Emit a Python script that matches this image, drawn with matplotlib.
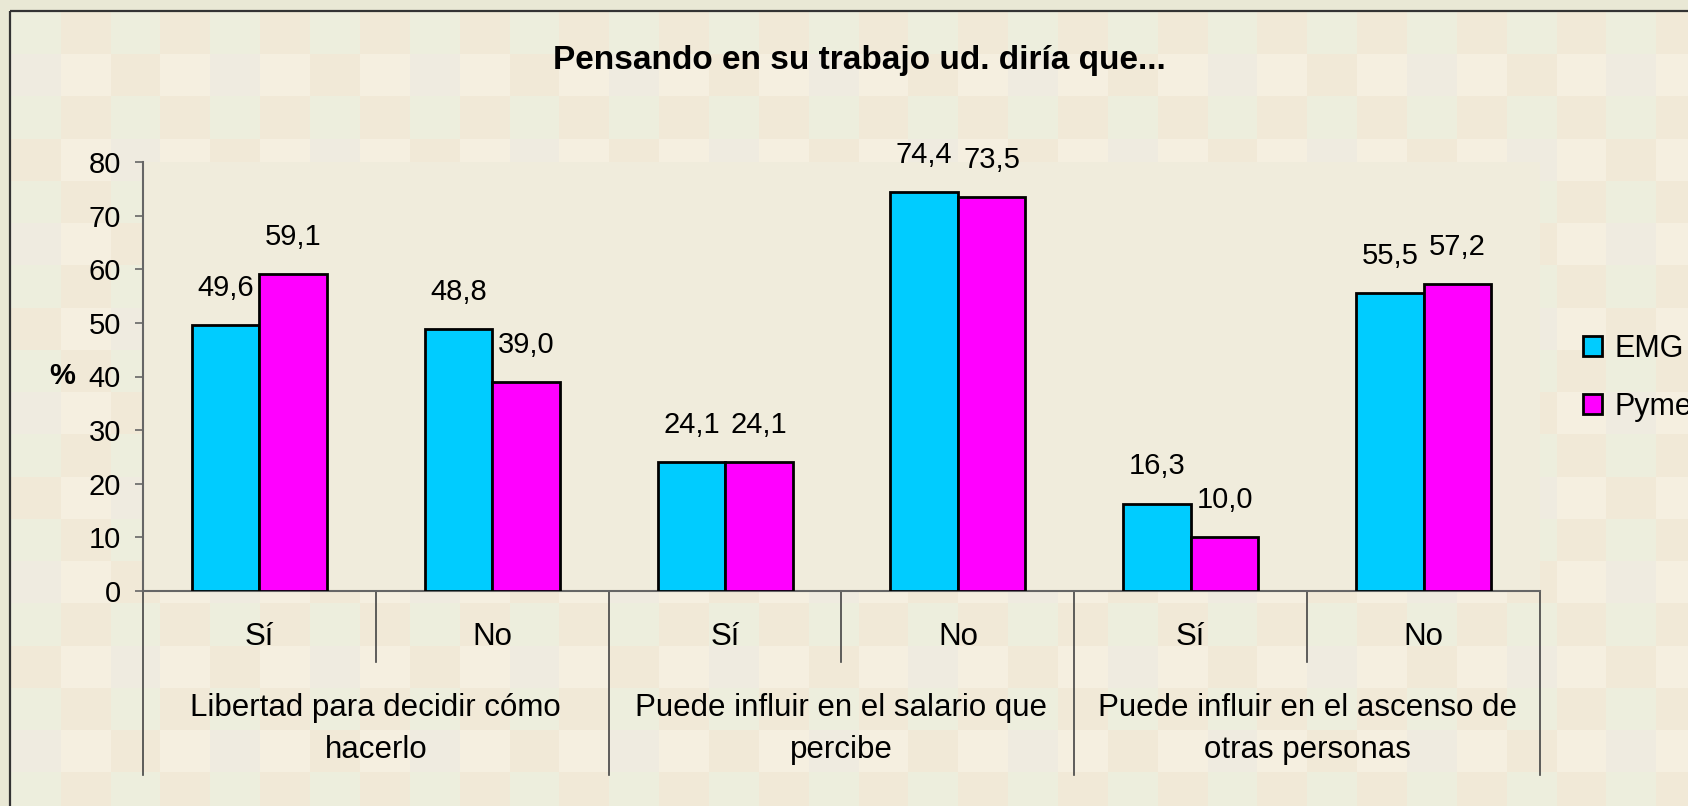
import numpy as np
import matplotlib
matplotlib.use("Agg")
import matplotlib.pyplot as plt
from matplotlib.patches import Patch, Rectangle
from matplotlib.transforms import blended_transform_factory

plt.rcParams['font.family'] = ['Liberation Sans', 'DejaVu Sans']

# ---------- datos ----------
titulo = "Pensando en su trabajo ud. diría que..."
subcats = ["Sí", "No", "Sí", "No", "Sí", "No"]
grupos = ["Libertad para decidir cómo\nhacerlo",
          "Puede influir en el salario que\npercibe",
          "Puede influir en el ascenso de\notras personas"]
series = ["EMG", "Pyme"]
emg = [49.6, 48.8, 24.1, 74.4, 16.3, 55.5]
pyme = [59.1, 39.0, 24.1, 73.5, 10.0, 57.2]
yticks = [0, 10, 20, 30, 40, 50, 60, 70, 80]

W, H = 1688, 806
fig = plt.figure(figsize=(W / 100, H / 100), dpi=100, facecolor='#E9E8D5')

# ---------- fondo a cuadros ----------
bg = fig.add_axes([0, 0, 1, 1], zorder=-5)
bg.axis('off')
G, B, C, Gr = '#EDEEDD', '#F1E9D7', '#F5EFE0', '#EFEBE0'
tile = [[G, B, G, B], [Gr, C, B, C], [G, B, G, B], [B, C, Gr, C]]
rgb = np.array([[matplotlib.colors.to_rgb(c) for c in r] for r in tile])
pat = np.tile(rgb, (6, 10, 1))
tw, th = 49.86, 42.25
bg.imshow(pat, extent=(11, 11 + tw * 40, 12 + th * 24, 12),
          interpolation='nearest', aspect='auto')
bg.add_patch(Rectangle((10, 11), 1720, 840, fill=False, ec='#333333', lw=1.6))
bg.set_xlim(0, W); bg.set_ylim(H, 0)

# ---------- grafico ----------
x0, x1, ytop, y0 = 143, 1540, 162, 591
ax = fig.add_axes([x0 / W, 1 - y0 / H, (x1 - x0) / W, (y0 - ytop) / H])
ax.set_facecolor('#F0ECDC')

x = np.arange(len(subcats))
bw = 0.29
b1 = ax.bar(x - bw / 2, emg, bw, color='#00CCFF', edgecolor='black', lw=2, zorder=3)
b2 = ax.bar(x + bw / 2, pyme, bw, color='#FF00FF', edgecolor='black', lw=2, zorder=3)

for bars, vals in ((b1, emg), (b2, pyme)):
    for r, v in zip(bars, vals):
        ax.annotate(f"{v:.1f}".replace('.', ','),
                    (r.get_x() + r.get_width() / 2, v),
                    xytext=(0, 21), textcoords='offset points',
                    ha='center', va='baseline', fontsize=21)

ax.set_xlim(-0.5, len(subcats) - 0.5)
ax.set_ylim(0, 80)
ax.set_yticks(yticks)
ax.tick_params(axis='y', labelsize=21, length=6, width=1.2, color='#666666', pad=10)
ax.set_xticks([])
for s in ('top', 'right'):
    ax.spines[s].set_visible(False)
for s in ('left', 'bottom'):
    ax.spines[s].set_color('#666666')
    ax.spines[s].set_linewidth(1.5)

ax.set_ylabel('%', rotation=0, fontsize=21, fontweight='bold', va='center', ha='center')
ax.yaxis.set_label_coords(-0.058, 0.5)

# ---------- eje de categorias en dos niveles ----------
tr = blended_transform_factory(ax.transData, ax.transAxes)
for i, s in enumerate(subcats):
    ax.text(i, -0.107, s, transform=tr, ha='center', va='center', fontsize=22.5)
for g, name in enumerate(grupos):
    ax.text(2 * g + 0.5, -0.322, name, transform=tr, ha='center', va='center',
            fontsize=22.5, linespacing=1.5)
for xb in (-0.5, 1.5, 3.5, 5.5):
    ax.plot([xb, xb], [0, -0.429], transform=tr, color='#444444', lw=1.2, clip_on=False)
for xb in (0.5, 2.5, 4.5):
    ax.plot([xb, xb], [0, -0.1655], transform=tr, color='#444444', lw=1.2, clip_on=False)

fig.text(859 / W, 1 - 61 / H, titulo, ha='center', va='center',
         fontsize=24, fontweight='bold')

handles = [Patch(facecolor='#00CCFF', edgecolor='black', lw=2),
           Patch(facecolor='#FF00FF', edgecolor='black', lw=2)]
fig.legend(handles, series, loc='center left', bbox_to_anchor=(1583 / W, 1 - 378 / H),
           bbox_transform=fig.transFigure, frameon=False, borderpad=0, borderaxespad=0,
           handlelength=0.62, handleheight=0.62, handletextpad=0.4,
           labelspacing=0.92, fontsize=22)

fig.savefig('out.png', dpi=100, facecolor=fig.get_facecolor())
